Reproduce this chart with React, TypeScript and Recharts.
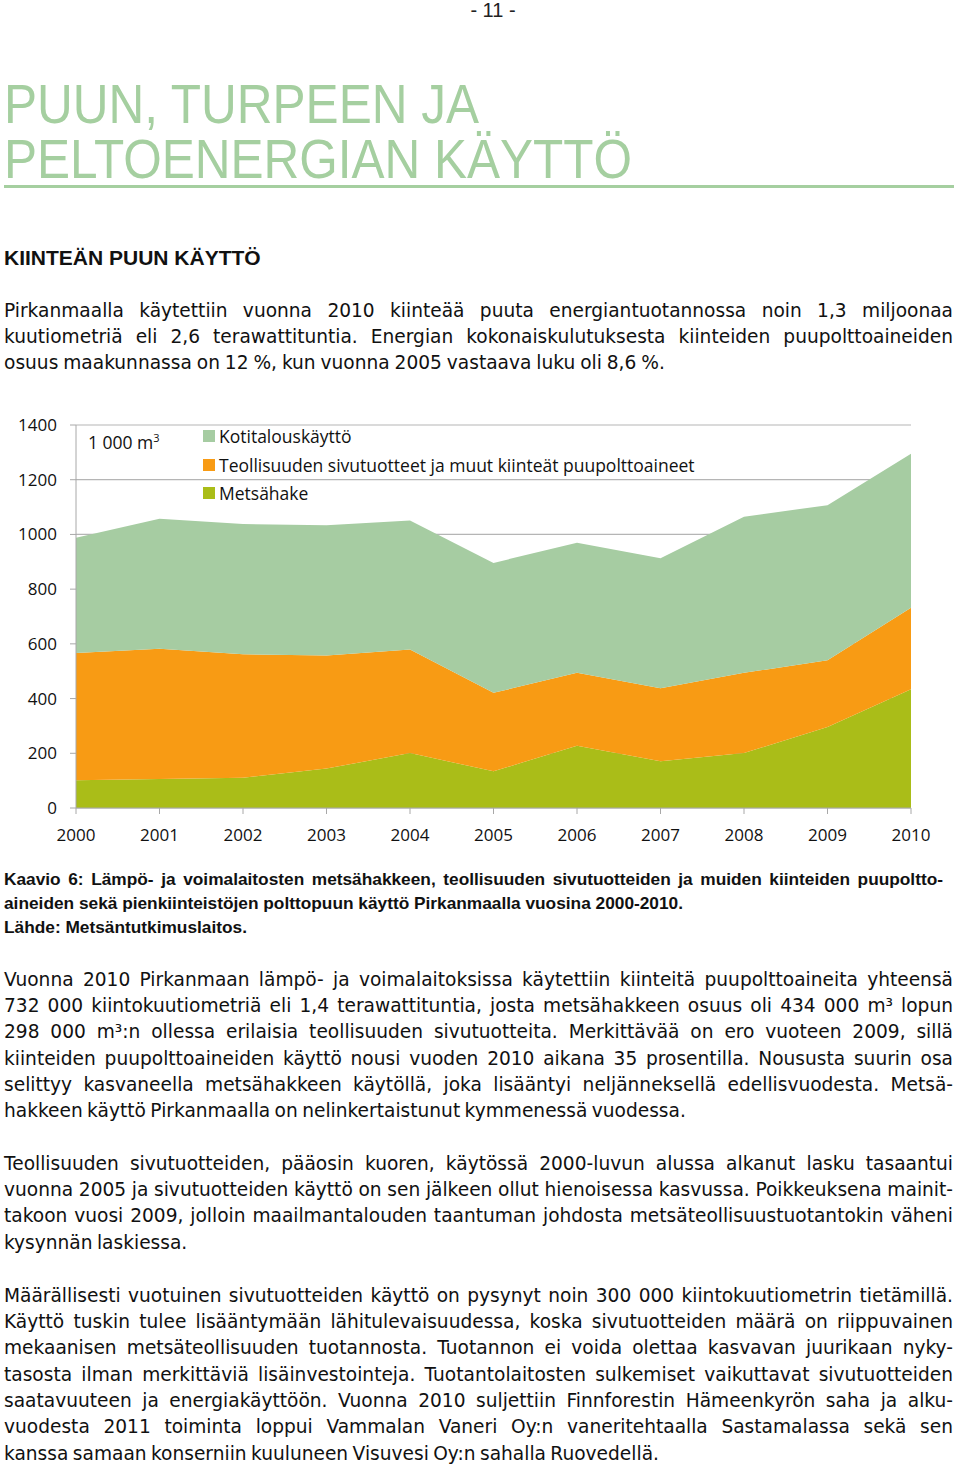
import React from "react";
import { AreaChart, Area, XAxis, YAxis, CartesianGrid, Legend } from "recharts";

const years = ["2000", "2001", "2002", "2003", "2004", "2005", "2006", "2007", "2008", "2009", "2010"];
const metsahake = [101, 106, 111, 144, 201, 134, 228, 171, 201, 296, 434];
const teollisuus = [466, 476, 451, 413, 378, 287, 266, 267, 293, 244, 298];
const kotitalous = [421, 475, 476, 477, 472, 475, 476, 475, 571, 567, 563];
const yTicks = [0, 200, 400, 600, 800, 1000, 1200, 1400];

const seriesNames = {
  metsa: "Metsähake",
  teol: "Teollisuuden sivutuotteet ja muut kiinteät puupolttoaineet",
  koti: "Kotitalouskäyttö",
};
const legendOrder = ["koti", "teol", "metsa"];

const data = years.map((y, i) => ({
  year: y,
  metsa: metsahake[i],
  teol: teollisuus[i],
  koti: kotitalous[i],
}));

const titleLines = ["PUUN, TURPEEN JA", "PELTOENERGIAN KÄYTTÖ"];
const heading = "KIINTEÄN PUUN KÄYTTÖ";
const intro = [
  "Pirkanmaalla käytettiin vuonna 2010 kiinteää puuta energiantuotannossa noin 1,3 miljoonaa",
  "kuutiometriä eli 2,6 terawattituntia. Energian kokonaiskulutuksesta kiinteiden puupolttoaineiden",
  "osuus maakunnassa on 12 %, kun vuonna 2005 vastaava luku oli 8,6 %.",
];
const caption = [
  "Kaavio 6: Lämpö- ja voimalaitosten metsähakkeen, teollisuuden sivutuotteiden ja muiden kiinteiden puupoltto-",
  "aineiden sekä pienkiinteistöjen polttopuun käyttö Pirkanmaalla vuosina 2000-2010.",
  "Lähde: Metsäntutkimuslaitos.",
];
const para1 = [
  "Vuonna 2010 Pirkanmaan lämpö- ja voimalaitoksissa käytettiin kiinteitä puupolttoaineita yhteensä",
  "732 000 kiintokuutiometriä eli 1,4 terawattituntia, josta metsähakkeen osuus oli 434 000 m³ lopun",
  "298 000 m³:n ollessa erilaisia teollisuuden sivutuotteita. Merkittävää on ero vuoteen 2009, sillä",
  "kiinteiden puupolttoaineiden käyttö nousi vuoden 2010 aikana 35 prosentilla. Nousus­ta suurin osa",
  "selittyy kasvaneella metsähakkeen käytöllä, joka lisääntyi neljänneksellä edellisvuodesta. Metsä-",
  "hakkeen käyttö Pirkanmaalla on nelinkertaistunut kymmenessä vuodessa.",
];
const para2 = [
  "Teollisuuden sivutuotteiden, pääosin kuoren, käytössä 2000-luvun alussa alkanut lasku tasaantui",
  "vuonna 2005 ja sivutuotteiden käyttö on sen jälkeen ollut hienoisessa kasvussa. Poikkeuksena mainit-",
  "takoon vuosi 2009, jolloin maailmantalouden taantuman johdosta metsäteollisuustuotantokin väheni",
  "kysynnän laskiessa.",
];
const para3 = [
  "Määrällisesti vuotuinen sivutuotteiden käyttö on pysynyt noin 300 000 kiintokuutiometrin tietämillä.",
  "Käyttö tuskin tulee lisääntymään lähitulevaisuudessa, koska sivutuotteiden määrä on riippuvainen",
  "mekaanisen metsäteollisuuden tuotannosta. Tuotannon ei voida olettaa kasvavan juurikaan nyky-",
  "tasosta ilman merkittäviä lisäinvestointeja. Tuotantolaitosten sulkemiset vaikuttavat sivutuotteiden",
  "saatavuuteen ja energiakäyttöön. Vuonna 2010 suljettiin Finnforestin Hämeenkyrön saha ja alku-",
  "vuodesta 2011 toiminta loppui Vammalan Vaneri Oy:n vaneritehtaalla Sastamalassa sekä sen",
  "kanssa samaan konserniin kuuluneen Visuvesi Oy:n sahalla Ruovedellä.",
];

const COLORS = { koti: "#a6cca2", teol: "#f89b14", metsa: "#aabd18" };
const BODY_FONT = "'DejaVu Sans', Verdana, sans-serif";
const BOLD_FONT = "'Liberation Sans', Arial, sans-serif";
const CHART_FONT = "'Open Sans', 'Noto Sans', sans-serif";

function Lines(props: {
  lines: string[];
  top: number;
  lh: number;
  size: number;
  bold?: boolean;
  width?: number;
  justifyCount?: number;
  font?: string;
  wordSpacing?: number;
}) {
  const { lines, top, lh, size, bold, width = 949, font = BODY_FONT, wordSpacing = 0 } = props;
  const jc = props.justifyCount ?? lines.length - 1;
  return (
    <>
      {lines.map((t, i) => {
        const just = i < jc;
        return (
          <div
            key={i}
            style={{
              position: "absolute",
              left: 4,
              top: top + i * lh - lh / 2,
              width,
              height: lh,
              lineHeight: lh + "px",
              fontSize: size,
              fontFamily: font,
              fontWeight: bold ? 700 : 400,
              color: "#111",
              textAlign: just ? "justify" : "left",
              textAlignLast: just ? "justify" : "left",
              whiteSpace: "nowrap",
              wordSpacing,
            } as React.CSSProperties}
          >
            {t}
          </div>
        );
      })}
    </>
  );
}

function LegendContent(props: any) {
  const payload = props.payload || [];
  const items = legendOrder
    .map((k) => payload.find((p: any) => p.dataKey === k))
    .filter(Boolean);
  return (
    <div style={{ fontFamily: CHART_FONT, fontSize: 17.5, color: "#111" }}>
      {items.map((it: any, i: number) => (
        <div key={i} style={{ display: "flex", alignItems: "center", height: 28.5, whiteSpace: "nowrap" }}>
          <span
            style={{
              display: "inline-block",
              width: 12,
              height: 12,
              background: it.color,
              marginRight: 4,
            }}
          />
          <span>{it.value}</span>
        </div>
      ))}
    </div>
  );
}

export default function App() {
  return (
    <div
      style={{
        position: "absolute",
        left: 0,
        top: 0,
        width: 960,
        height: 1467,
        background: "#fff",
        overflow: "hidden",
      }}
    >
      <div
        style={{
          position: "absolute",
          left: 0,
          top: 0,
          width: 986,
          textAlign: "center",
          fontFamily: BOLD_FONT,
          fontSize: 20,
          lineHeight: "20px",
          color: "#222",
        }}
      >
        - 11 -
      </div>

      {titleLines.map((t, i) => (
        <div
          key={i}
          style={{
            position: "absolute",
            left: 4,
            top: 78 + i * 55,
            fontFamily: BOLD_FONT,
            fontSize: 55,
            lineHeight: "52px",
            color: "#a5cfa0",
            whiteSpace: "nowrap",
            transform: "scaleX(0.9)",
            transformOrigin: "left top",
          }}
        >
          {t}
        </div>
      ))}
      <div
        style={{
          position: "absolute",
          left: 4,
          top: 185,
          width: 950,
          height: 3,
          background: "#a5cfa0",
        }}
      />

      <div
        style={{
          position: "absolute",
          left: 4,
          top: 245,
          fontFamily: BOLD_FONT,
          fontWeight: 700,
          fontSize: 21,
          lineHeight: "26px",
          color: "#111",
        }}
      >
        {heading}
      </div>

      <Lines lines={intro} top={311} lh={26} size={18.6} wordSpacing={-1} />

      <div style={{ position: "absolute", left: 0, top: 400 }}>
        <AreaChart
          width={960}
          height={460}
          data={data}
          margin={{ top: 25, right: 49, left: 0, bottom: 22 }}
        >
          <CartesianGrid vertical={false} stroke="#b5b5b5" strokeWidth={1.2} />
          <XAxis
            dataKey="year"
            tickSize={6}
            tickMargin={15}
            stroke="#a8a8a8"
            tick={{ fill: "#111", fontSize: 17, fontFamily: CHART_FONT }}
            interval={0}
          />
          <YAxis
            width={76}
            domain={[0, 1400]}
            ticks={yTicks}
            tickSize={6}
            tickMargin={13}
            stroke="#a8a8a8"
            tick={{ fill: "#111", fontSize: 17, fontFamily: CHART_FONT }}
            interval={0}
          />
          <Legend
            layout="vertical"
            align="center"
            verticalAlign="middle"
            wrapperStyle={{ left: 203, top: 22, width: 540 }}
            content={<LegendContent />}
          />
          <Area
            type="linear"
            dataKey="metsa"
            name={seriesNames.metsa}
            stackId="a"
            stroke="none"
            fill={COLORS.metsa}
            fillOpacity={1}
            isAnimationActive={false}
          />
          <Area
            type="linear"
            dataKey="teol"
            name={seriesNames.teol}
            stackId="a"
            stroke="none"
            fill={COLORS.teol}
            fillOpacity={1}
            isAnimationActive={false}
          />
          <Area
            type="linear"
            dataKey="koti"
            name={seriesNames.koti}
            stackId="a"
            stroke="none"
            fill={COLORS.koti}
            fillOpacity={1}
            isAnimationActive={false}
          />
        </AreaChart>
        <div
          style={{
            position: "absolute",
            left: 88,
            top: 30,
            fontFamily: CHART_FONT,
            fontSize: 17.5,
            color: "#111",
            whiteSpace: "nowrap",
          }}
        >
          1 000 m<sup style={{ fontSize: 11 }}>3</sup>
        </div>
      </div>

      <Lines lines={caption} top={879} lh={24} size={17.3} bold width={939} justifyCount={1} font={BOLD_FONT} />
      <Lines lines={para1} top={980} lh={26.2} size={18.6} wordSpacing={-1.5} />
      <Lines lines={para2} top={1164} lh={26.3} size={18.6} wordSpacing={-1.5} />
      <Lines lines={para3} top={1296} lh={26.3} size={18.6} wordSpacing={-1.5} />
    </div>
  );
}
